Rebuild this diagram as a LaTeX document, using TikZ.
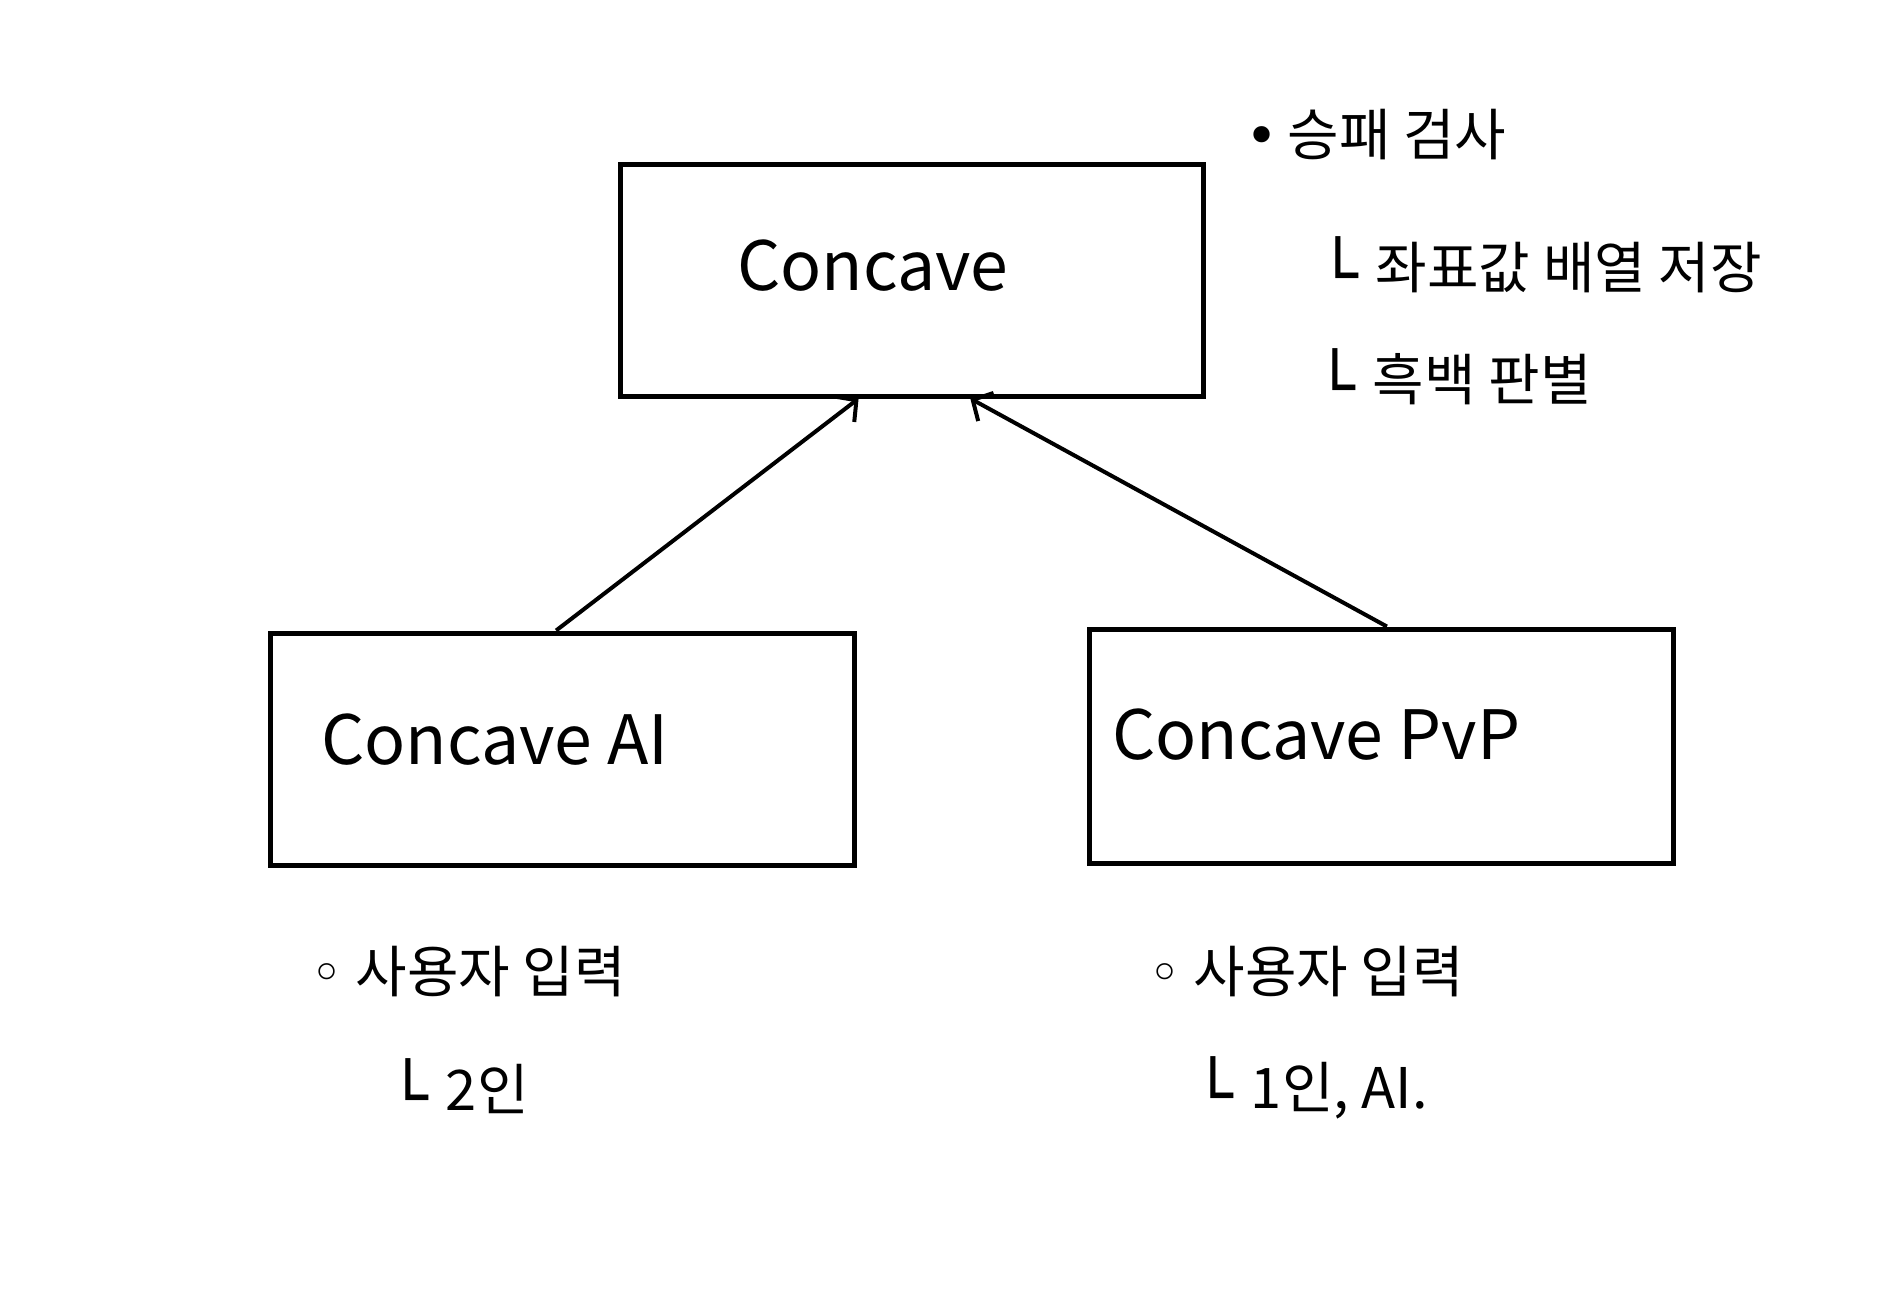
\documentclass[tikz,border=0pt]{standalone}
\usepackage{fontspec}
\setmainfont{Noto Sans CJK KR}
\newfontfamily\symfont{DejaVu Sans}
\usetikzlibrary{arrows.meta,calc}
\newcommand{\subarrow}{\raisebox{-10pt}{\symfont\fontsize{66}{70}\selectfont └}\hspace{18pt}}
\begin{document}
\begin{tikzpicture}[x=1pt,y=-1pt,
  box/.style={draw,line width=5pt,inner sep=0pt},
  title/.style={anchor=west,inner sep=0pt,font=\fontsize{68}{76}\selectfont},
  note/.style={anchor=west,inner sep=0pt,font=\fontsize{56}{64}\selectfont},
  link/.style={line width=4pt,-{Straight Barb[length=15pt,width=32pt,line width=4pt]}}]
\fill[white] (0,0) rectangle (1900,1290);
\useasboundingbox (0,0) rectangle (1900,1290);
% boxes
\node[box,minimum width=583pt,minimum height=232pt] (top) at (911.5,280) {};
\node[box,minimum width=584pt,minimum height=232pt] (ai) at (562,749) {};
\node[box,minimum width=584pt,minimum height=234pt] (pvp) at (1381,746) {};
% box texts
\node[title] (ttop) at (737,266) {Concave};
\node[title] (tai) at (321,740) {Concave AI};
\node[title] (tpvp) at (1112,735) {Concave PvP};
% connectors
\draw[link] ($(ai.north west)!0.49!(ai.north east)$) -- ($(top.south west)!0.41!(top.south east)$);
\draw[link] ($(pvp.north west)!0.51!(pvp.north east)$) -- ($(top.south west)!0.60!(top.south east)$);
% notes top right
\node[note] (n1) at (1245,135) {{\symfont •}\,승패 검사};
\node[note] (n2) at (1318,268) {\subarrow 좌표값 배열 저장};
\node[note] (n3) at (1315,380) {\subarrow 흑백 판별};
% notes bottom left
\node[note] (b1) at (310,972) {{\symfont ◦}\ 사용자 입력};
\node[note] (b2) at (388,1090) {\subarrow 2인};
% notes bottom right
\node[note] (c1) at (1148,972) {{\symfont ◦}\ 사용자 입력};
\node[note] (c2) at (1193,1088) {\subarrow 1인, AI.};
\end{tikzpicture}
\end{document}
